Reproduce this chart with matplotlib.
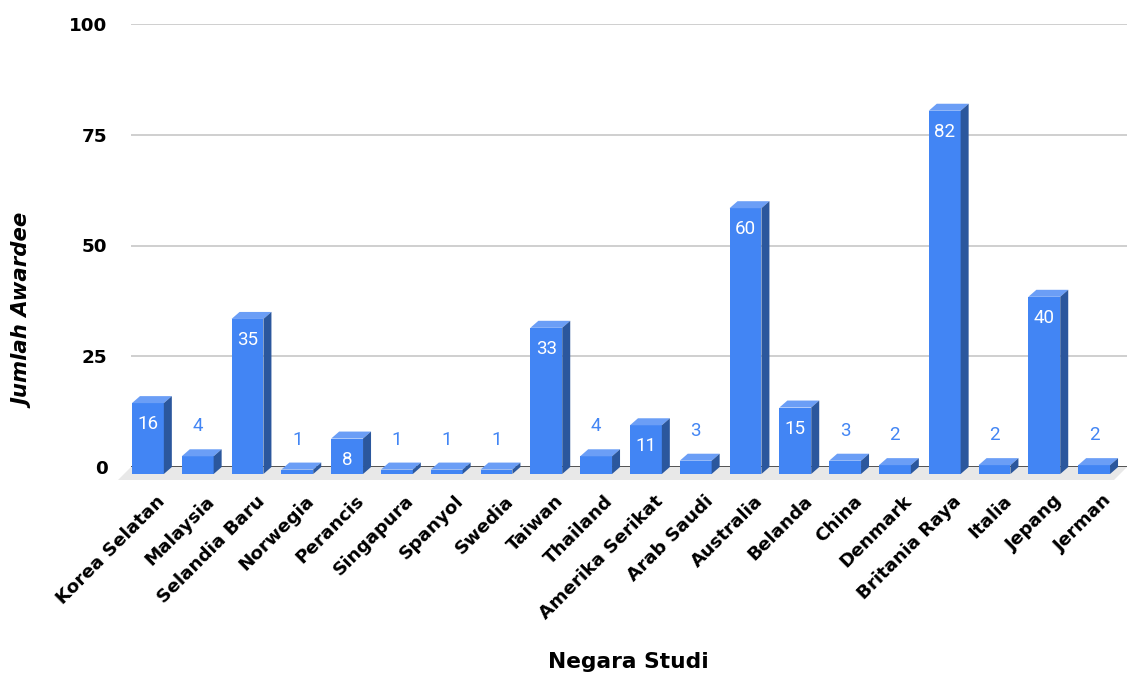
import matplotlib
matplotlib.use("Agg")
import matplotlib.pyplot as plt
from matplotlib.patches import Polygon

categories = ["Korea Selatan", "Malaysia", "Selandia Baru", "Norwegia", "Perancis",
              "Singapura", "Spanyol", "Swedia", "Taiwan", "Thailand",
              "Amerika Serikat", "Arab Saudi", "Australia", "Belanda", "China",
              "Denmark", "Britania Raya", "Italia", "Jepang", "Jerman"]
values = [16, 4, 35, 1, 8, 1, 1, 1, 33, 4, 11, 3, 60, 15, 3, 2, 82, 2, 40, 2]
yticks = [0, 25, 50, 75, 100]

W, H = 1127, 673
fig = plt.figure(figsize=(W / 100, H / 100), dpi=100)
ax = fig.add_axes([131 / W, (H - 467) / H, (W - 131) / W, (467 - 24) / H])
n = len(categories)
ax.set_xlim(-0.5, n - 0.5)
ax.set_ylim(0, 100)

# pixel -> data scale
sx = ax.transData.transform((1, 0))[0] - ax.transData.transform((0, 0))[0]
sy = ax.transData.transform((0, 1))[1] - ax.transData.transform((0, 0))[1]
ddx, ddy = 8 / sx, 7 / sy
bw = 0.64

c_front = "#4285f4"
c_top = "#6b9ef6"
c_side = "#2b579d"

# floor
fdx, fdy = 13 / sx, 13 / sy
ax.add_patch(Polygon([(-0.5, 0), (n - 0.5, 0), (n - 0.5 - fdx, -fdy), (-0.5 - fdx, -fdy)],
                     closed=True, fc="#e8e8e8", ec="none", clip_on=False, zorder=1))

for y in yticks[1:]:
    ax.axhline(y, color="#cccccc", lw=1.3, zorder=1)
ax.axhline(0, color="#333333", lw=1.2, zorder=2)

xs = list(range(n))
ax.bar([x - ddx for x in xs], values, width=bw, bottom=-ddy, color=c_front,
       clip_on=False, zorder=3)
for x, v in zip(xs, values):
    x0 = x - bw / 2 - ddx
    x1 = x + bw / 2 - ddx
    yt = v - ddy
    ax.add_patch(Polygon([(x0, yt), (x1, yt), (x1 + ddx, v), (x0 + ddx, v)],
                         closed=True, fc=c_top, ec="none", clip_on=False, zorder=3))
    ax.add_patch(Polygon([(x1, -ddy), (x1, yt), (x1 + ddx, v), (x1 + ddx, 0)],
                         closed=True, fc=c_side, ec="none", clip_on=False, zorder=3))
    if v >= 8:
        ax.text(x - ddx, yt - 21 / sy, str(v), color="white", ha="center", va="center",
                fontsize=13.5, family="Roboto", zorder=4)
    else:
        ax.text(x - ddx, yt + 30 / sy, str(v), color=c_front, ha="center", va="center",
                fontsize=13.5, family="Roboto", zorder=4)

for s in ax.spines.values():
    s.set_visible(False)
ax.set_yticks(yticks)
ax.set_yticklabels([str(t) for t in yticks], fontsize=13.2, fontweight="bold",
                   family="DejaVu Sans")
ax.tick_params(axis="y", length=0, pad=17)
ax.set_xticks(xs)
ax.set_xticklabels(categories, rotation=45, ha="right", va="top", rotation_mode="anchor",
                   fontsize=13.2, fontweight="bold", family="DejaVu Sans")
ax.tick_params(axis="x", length=0, pad=18)

fig.text(628 / W, 1 - 662 / H, "Negara Studi", ha="center", va="center",
         fontsize=15.7, fontweight="bold", family="DejaVu Sans")
fig.text(25 / W, 1 - 311 / H, "Jumlah Awardee", ha="center", va="center", rotation=90,
         fontsize=15.3, fontweight="bold", fontstyle="italic", family="DejaVu Sans")

fig.savefig("out.png", dpi=100)
